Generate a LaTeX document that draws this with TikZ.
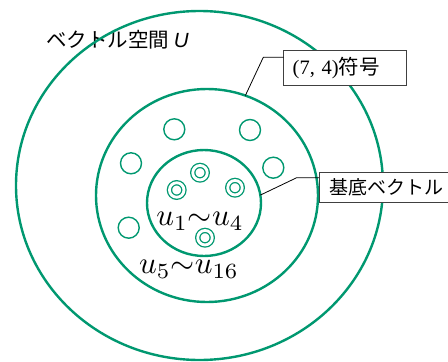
\documentclass[tikz,border=0pt]{standalone}
\usepackage{fontspec}
\usetikzlibrary{shapes.geometric,calc}
\newfontfamily\jp{Noto Sans CJK JP}
\newfontfamily\serifL{Liberation Serif}
\newfontfamily\sansL{Liberation Sans}
\definecolor{ringgreen}{RGB}{0,152,112}
\definecolor{boxgray}{RGB}{64,64,64}
\begin{document}
\begin{tikzpicture}[x=1pt,y=-1pt,
  ring/.style={draw=ringgreen, line width=2.4pt, ellipse, inner sep=0pt, outer sep=0pt},
  codeword/.style={draw=ringgreen, line width=1.4pt, circle, inner sep=0pt, outer sep=0pt, minimum size=21pt},
  basisword/.style={draw=ringgreen, double=white, double distance=2.8pt, line width=1.3pt, circle, inner sep=0pt, outer sep=0pt, minimum size=14.5pt},
  leader/.style={draw=black, line width=0.8pt},
  callout/.style={draw=boxgray, line width=0.9pt, fill=white, anchor=north west, align=left, outer sep=0pt},
  mathlabel/.style={scale=3.1, inner sep=0pt}
]
\useasboundingbox (0,0) rectangle (448,362);
% title (drawn first: the outer ring passes over it)
\node[anchor=west, inner sep=0pt, font=\jp\fontsize{20.5}{22}\selectfont] (title) at (46,40) {ベクトル空間 {\sansL\itshape U}};
% rings
\node[ring, minimum width=367pt, minimum height=349pt] (space) at (199.5,185.5) {};
\node[ring, minimum width=222pt, minimum height=213pt] (code) at (207,195.5) {};
\node[ring, minimum width=114pt, minimum height=106pt] (base) at (204,203) {};
% code words
\node[codeword] (w1) at (174.3,129.3) {};
\node[codeword] (w2) at (250,130) {};
\node[codeword] (w3) at (131,163.3) {};
\node[codeword] (w4) at (273.3,167.7) {};
\node[codeword] (w5) at (128.7,227.7) {};
% basis vectors
\node[basisword] (b1) at (200,172.7) {};
\node[basisword] (b2) at (176.7,190) {};
\node[basisword] (b3) at (235,187.7) {};
\node[basisword] (b4) at (205,237.7) {};
% labels
\node[mathlabel] (lab1) at (200,221) {$u_1{\sim}u_4$};
\node[mathlabel] (lab2) at (189,269) {$u_5{\sim}u_{16}$};
% callouts
\node[callout, minimum height=34.6pt, text width=105pt, inner xsep=9pt, font=\fontsize{20.5}{22}\selectfont] (codebox) at (283.7,50.7) {{\serifL (7, 4)}{\jp 符号}};
\node[callout, minimum height=30pt, text width=130pt, inner xsep=10pt, font=\jp\fontsize{19}{20}\selectfont] (basebox) at (319,172.3) {基底ベクトル};
\coordinate (k1) at (263.3,57.3);
\coordinate (k2) at (296.7,177.7);
\draw[leader] (k1 -| codebox.west) -- (k1) -- (code.69);
\draw[leader] (k2 -| basebox.west) -- (k2) -- (base.8);
\end{tikzpicture}
\end{document}
